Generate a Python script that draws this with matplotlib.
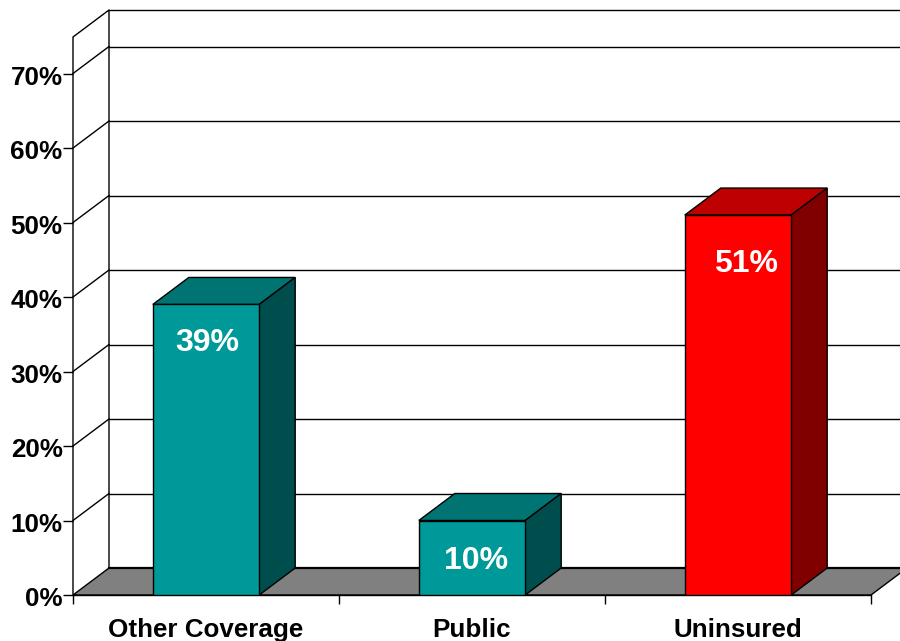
import matplotlib
matplotlib.use('Agg')
import matplotlib.pyplot as plt
from matplotlib.patches import Polygon
from matplotlib.transforms import ScaledTranslation

categories = ['Other Coverage', 'Public', 'Uninsured']
values = [39, 10, 51]
bar_labels = ['39%', '10%', '51%']
yticks = [0, 10, 20, 30, 40, 50, 60, 70]
ytick_labels = ['0%', '10%', '20%', '30%', '40%', '50%', '60%', '70%']
front_colors = ['#009999', '#009999', '#ff0000']
top_colors = ['#007373', '#007373', '#bf0000']
side_colors = ['#004d4d', '#004d4d', '#800000']

W, H = 900, 641
Y_MAX = 74.9
BAR_WIDTH = 0.4
# depth of the fake 3d box, in data units
DX = 36 / 266
DY = 27 / 7.45
LW = 1.0
# label nudges in pixels from the bar's top centre
label_dx = [1.5, 4.5, 8]
label_dy = [-39, -40, -49]

plt.rcParams['font.family'] = ['Liberation Sans', 'DejaVu Sans']

fig = plt.figure(figsize=(W / 100, H / 100), dpi=100)
ax = fig.add_axes([73 / W, 1 - 595 / H, 798 / W, (595 - 37) / H])
ax.set_xlim(-0.5, 2.5)
ax.set_ylim(0, Y_MAX)
for s in ax.spines.values():
    s.set_visible(False)


def poly(pts, color, z):
    ax.add_patch(Polygon(pts, closed=True, facecolor=color, edgecolor='black',
                         linewidth=LW, clip_on=False, zorder=z))


x0, x1 = ax.get_xlim()

# floor and walls
poly([(x0, 0), (x1, 0), (x1 + DX, DY), (x0 + DX, DY)], '#808080', 1)
ax.plot([x0 + DX, x1 + DX], [DY, DY], color='black', lw=1.6, clip_on=False, zorder=2)
ax.plot([x0, x0, x0 + DX, x0 + DX], [0, Y_MAX, Y_MAX + DY, DY], color='black',
        lw=LW, clip_on=False, zorder=1)
ax.plot([x0 + DX, x1 + DX], [Y_MAX + DY, Y_MAX + DY], color='black', lw=LW,
        clip_on=False, zorder=1)

# gridlines run along the back wall, with a diagonal on the side wall
for t in yticks[1:]:
    ax.plot([x0 + DX, x1 + DX], [t + DY, t + DY], color='black', lw=LW,
            clip_on=False, zorder=1)
    ax.plot([x0, x0 + DX], [t, t + DY], color='black', lw=LW, clip_on=False, zorder=1)

# bars
for i, v in enumerate(values):
    l = i - BAR_WIDTH / 2
    r = i + BAR_WIDTH / 2
    poly([(l, v), (r, v), (r + DX, v + DY), (l + DX, v + DY)], top_colors[i], 3)
    poly([(r, 0), (r + DX, DY), (r + DX, v + DY), (r, v)], side_colors[i], 3)
    ax.bar(i, v, width=BAR_WIDTH, color=front_colors[i], edgecolor='black',
           linewidth=LW, zorder=4)
    ax.annotate(bar_labels[i], (i, v), xytext=(label_dx[i] * 0.72, label_dy[i] * 0.72),
                textcoords='offset points', ha='center', va='center', color='white',
                fontsize=23, fontweight='bold', zorder=5)

ax.set_yticks(yticks)
ax.set_yticklabels(ytick_labels, fontsize=18.7, fontweight='bold')
ax.set_xticks([-0.5, 0.5, 1.5, 2.5], minor=False)
ax.set_xticklabels([])
ax.set_xticks([0, 1, 2], minor=True)
ax.set_xticklabels(categories, minor=True, fontsize=18.7, fontweight='bold')
ax.tick_params(axis='x', which='major', length=6.5, width=LW, pad=2)
ax.tick_params(axis='x', which='minor', length=0, pad=16.5)
ax.tick_params(axis='y', length=7, width=LW, pad=0.5)
ax.plot([x0, x1], [0, 0], color='black', lw=LW, clip_on=False, zorder=2)

# y labels sit a touch below their ticks in the original
nudge = ScaledTranslation(0, -1.5 / 100, fig.dpi_scale_trans)
for lbl in ax.get_yticklabels():
    lbl.set_transform(lbl.get_transform() + nudge)

fig.savefig('out.png', dpi=100)
